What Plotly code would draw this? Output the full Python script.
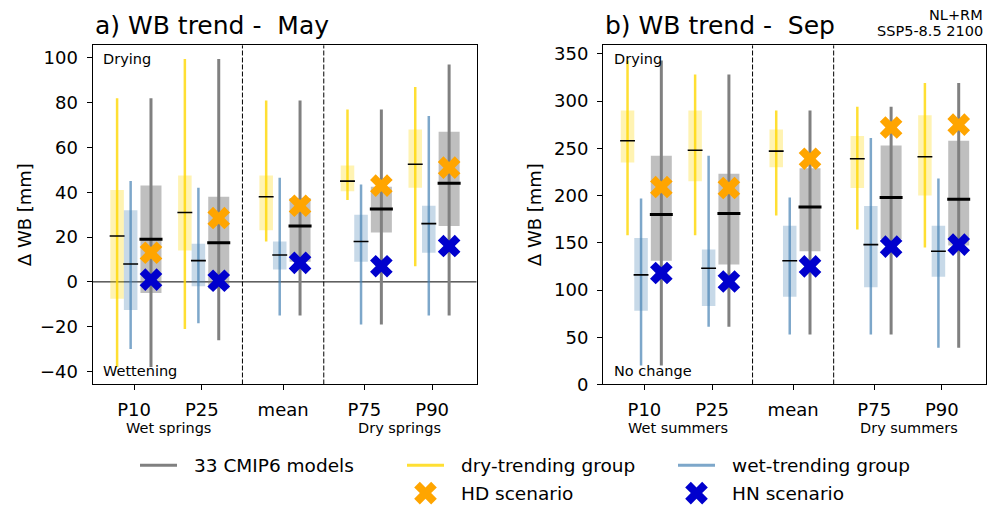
import plotly.graph_objects as go

categories = ["P10", "P25", "mean", "P75", "P90"]
xpos = [0, 1, 2.2, 3.4, 4.4]

# panel a) May, all 33 models
may_all_lo = [-38, -26, -15, -19, -15]
may_all_q1 = [-5, -3, 9, 22, 25]
may_all_med = [19, 17.5, 25, 32.5, 44]
may_all_q3 = [43, 38, 37.5, 42.5, 67]
may_all_hi = [82, 99.5, 81, 77, 97]
# dry-trending group
may_dry_lo = [-38, -21, 18, 36.5, 7]
may_dry_q1 = [-7.5, 14, 23, 40.5, 42]
may_dry_med = [20.5, 31, 38, 45, 52.5]
may_dry_q3 = [41, 47.5, 47.5, 52, 68]
may_dry_hi = [82, 99.5, 81, 77, 87]
# wet-trending group
may_wet_lo = [-30, -18.5, -15, -19, -15]
may_wet_q1 = [-12.5, -2, 5.5, 9, 13]
may_wet_med = [8, 9.5, 12, 18, 26]
may_wet_q3 = [32, 17, 18, 30, 34]
may_wet_hi = [45, 42, 46.5, 43.5, 74]
may_hd = [13, 28.5, 34, 43, 51]
may_hn = [1, 0.5, 8.5, 7, 16]

# panel b) Sep
sep_all_lo = [20, 61, 53, 53, 39]
sep_all_q1 = [131, 127, 141, 154, 147]
sep_all_med = [180, 181, 188, 198, 196]
sep_all_q3 = [242, 223, 229, 253, 258]
sep_all_hi = [343, 328, 290, 294, 319]
sep_dry_lo = [158, 158, 179, 164, 145]
sep_dry_q1 = [235, 215, 230, 208, 200]
sep_dry_med = [258, 248, 247, 239, 241]
sep_dry_q3 = [290, 290, 270, 263, 285]
sep_dry_hi = [343, 328, 290, 294, 319]
sep_wet_lo = [20, 61, 53, 53, 39]
sep_wet_q1 = [78, 83, 93, 103, 114]
sep_wet_med = [116, 123, 131, 148, 141]
sep_wet_q3 = [155, 143, 168, 189, 168]
sep_wet_hi = [197, 242, 198, 261, 218]
sep_hd = [209, 208, 239, 272, 275]
sep_hn = [118, 109, 125, 146, 148]

FONT = "DejaVu Sans"
GOLD_LINE = "rgba(255,215,0,0.8)"
GOLD_BOX = "rgba(255,215,0,0.3)"
BLUE_LINE = "rgba(70,130,180,0.7)"
BLUE_BOX = "rgba(70,130,180,0.3)"
GRAY_LINE = "rgb(128,128,128)"
GRAY_BOX = "rgba(128,128,128,0.5)"
HD_COL = "#FFA500"
HN_COL = "#0000CD"

# the photographed page area is a bit taller than the picture, so the figure is too
W, H = 987, 517


def seg_v(xs, lo, hi):
    xx, yy = [], []
    for x, a, b in zip(xs, lo, hi):
        xx += [x, x, None]
        yy += [a, b, None]
    return xx, yy


def seg_h(xs, ys, w):
    xx, yy = [], []
    for x, y in zip(xs, ys):
        xx += [x - w / 2, x + w / 2, None]
        yy += [y, y, None]
    return xx, yy


def add_panel(fig, xa, ya, groups, hd, hn):
    # groups: (offset, box width, median width, line col, box col, line w, med w, lo, q1, med, q3, hi)
    for off, bw, mw, lc, bc, lw, medw, lo, q1, med, q3, hi in groups:
        xs = [x + off for x in xpos]
        fig.add_trace(go.Bar(x=xs, y=[b - a for a, b in zip(q1, q3)], base=q1, width=bw,
                             marker=dict(color=bc, line=dict(width=0)),
                             xaxis=xa, yaxis=ya, showlegend=False, hoverinfo="skip"))
    for off, bw, mw, lc, bc, lw, medw, lo, q1, med, q3, hi in groups:
        xs = [x + off for x in xpos]
        wx, wy = seg_v(xs, lo, hi)
        fig.add_trace(go.Scatter(x=wx, y=wy, mode="lines", line=dict(color=lc, width=lw),
                                 xaxis=xa, yaxis=ya, showlegend=False, hoverinfo="skip"))
    for off, bw, mw, lc, bc, lw, medw, lo, q1, med, q3, hi in groups:
        xs = [x + off for x in xpos]
        mx, my = seg_h(xs, med, mw)
        fig.add_trace(go.Scatter(x=mx, y=my, mode="lines", line=dict(color="black", width=medw),
                                 xaxis=xa, yaxis=ya, showlegend=False, hoverinfo="skip"))
    xs = [x + 0.25 for x in xpos]
    fig.add_trace(go.Scatter(x=xs, y=hd, mode="markers",
                             marker=dict(symbol="x", size=20, color=HD_COL, line=dict(width=0)),
                             xaxis=xa, yaxis=ya, showlegend=False))
    fig.add_trace(go.Scatter(x=xs, y=hn, mode="markers",
                             marker=dict(symbol="x", size=20, color=HN_COL, line=dict(width=0)),
                             xaxis=xa, yaxis=ya, showlegend=False))


fig = go.Figure()

add_panel(fig, "x", "y", [
    (-0.25, 0.2, 0.22, GOLD_LINE, GOLD_BOX, 2.5, 1.6, may_dry_lo, may_dry_q1, may_dry_med, may_dry_q3, may_dry_hi),
    (-0.05, 0.2, 0.22, BLUE_LINE, BLUE_BOX, 2.5, 1.6, may_wet_lo, may_wet_q1, may_wet_med, may_wet_q3, may_wet_hi),
    (0.25, 0.31, 0.34, GRAY_LINE, GRAY_BOX, 3, 3, may_all_lo, may_all_q1, may_all_med, may_all_q3, may_all_hi),
], may_hd, may_hn)

add_panel(fig, "x2", "y2", [
    (-0.25, 0.2, 0.22, GOLD_LINE, GOLD_BOX, 2.5, 1.6, sep_dry_lo, sep_dry_q1, sep_dry_med, sep_dry_q3, sep_dry_hi),
    (-0.05, 0.2, 0.22, BLUE_LINE, BLUE_BOX, 2.5, 1.6, sep_wet_lo, sep_wet_q1, sep_wet_med, sep_wet_q3, sep_wet_hi),
    (0.25, 0.31, 0.34, GRAY_LINE, GRAY_BOX, 3, 3, sep_all_lo, sep_all_q1, sep_all_med, sep_all_q3, sep_all_hi),
], sep_hd, sep_hn)

# legend, drawn on an overlay axis in reference-pixel units
leg_row = [465, 493]
leg_font = 18.5
leg_text_x = [192, 459, 730]
leg_handle = [[x - 52, x - 15] for x in leg_text_x]
leg_colors = [GRAY_LINE, GOLD_LINE, BLUE_LINE]
for hx, col in zip(leg_handle, leg_colors):
    fig.add_trace(go.Scatter(x=hx, y=[leg_row[0]] * 2, mode="lines",
                             line=dict(color=col, width=3), xaxis="x3", yaxis="y3", showlegend=False))
for hx, col in zip(leg_handle[1:], [HD_COL, HN_COL]):
    fig.add_trace(go.Scatter(x=[sum(hx) / 2], y=[leg_row[1]], mode="markers",
                             marker=dict(symbol="x", size=20, color=col, line=dict(width=0)),
                             xaxis="x3", yaxis="y3", showlegend=False))

ann = []


def txt(x, y, s, size, xanchor="left", yanchor="middle", angle=0):
    ann.append(dict(x=x, y=y, xref="x3", yref="y3", text=s, showarrow=False,
                    xanchor=xanchor, yanchor=yanchor, textangle=angle,
                    font=dict(family=FONT, size=size, color="black")))


txt(leg_text_x[0], leg_row[0], "33 CMIP6 models", leg_font)
txt(leg_text_x[1], leg_row[0], "dry-trending group", leg_font)
txt(leg_text_x[2], leg_row[0], "wet-trending group", leg_font)
txt(leg_text_x[1], leg_row[1], "HD scenario", leg_font)
txt(leg_text_x[2], leg_row[1], "HN scenario", leg_font)

txt(93, 24, "a) WB trend -\u00a0 May", 25)
txt(603, 24, "b) WB trend -\u00a0 Sep", 25)
txt(985, 13, "NL+RM", 14.5, xanchor="right")
txt(985, 29, "SSP5-8.5 2100", 14.5, xanchor="right")

txt(101, 57, "Drying", 14.5)
txt(101, 370, "Wettening", 14.5)
txt(612, 57, "Drying", 14.5)
txt(612, 370, "No change", 14.5)

txt(168, 428, "Wet springs", 14.5, xanchor="center")
txt(399, 428, "Dry springs", 14.5, xanchor="center")
txt(678, 428, "Wet summers", 14.5, xanchor="center")
txt(909, 428, "Dry summers", 14.5, xanchor="center")

txt(24, 214, "\u0394 WB [mm]", 18, xanchor="center", angle=-90)
txt(534, 214, "\u0394 WB [mm]", 18, xanchor="center", angle=-90)

shapes = []
for xr, yr in [("x", "y domain"), ("x2", "y2 domain")]:
    for xv in [1.6, 2.8]:
        shapes.append(dict(type="line", xref=xr, yref=yr, x0=xv, x1=xv, y0=0, y1=1,
                           line=dict(color="black", width=1, dash="5px,2px"), layer="below"))
shapes.append(dict(type="line", xref="x domain", yref="y", x0=0, x1=1, y0=0, y1=0,
                   line=dict(color="black", width=1), layer="below"))

xcommon = dict(range=[-0.613, 5.054], tickvals=xpos, ticktext=categories, showline=True,
               mirror=True, linecolor="black", linewidth=1, ticks="outside", ticklen=5,
               tickcolor="black", showgrid=False, zeroline=False, ticklabelstandoff=4,
               tickfont=dict(family=FONT, size=18, color="black"))
ycommon = dict(showline=True, mirror=True, linecolor="black", linewidth=1, ticks="outside",
               ticklen=5, tickcolor="black", showgrid=False, zeroline=False, ticklabelstandoff=5,
               tickfont=dict(family=FONT, size=18, color="black"))

ydom = [1 - 384 / 507, 1 - 43.5 / 507]
fig.update_layout(
    width=W, height=H,
    margin=dict(l=0, r=0, t=0, b=0),
    paper_bgcolor="white", plot_bgcolor="rgba(0,0,0,0)",
    barmode="overlay", showlegend=False,
    xaxis=dict(domain=[92.5 / 987, 476.5 / 987], anchor="y", **xcommon),
    yaxis=dict(domain=ydom, anchor="x", range=[-45.8, 105.6], tickvals=list(range(-40, 101, 20)), **ycommon),
    xaxis2=dict(domain=[603 / 987, 986 / 987], anchor="y2", **xcommon),
    yaxis2=dict(domain=ydom, anchor="x2", range=[0, 359], tickvals=list(range(0, 351, 50)), **ycommon),
    xaxis3=dict(domain=[0, 1], anchor="y3", range=[0, 987], visible=False),
    yaxis3=dict(domain=[0, 1], anchor="x3", range=[507, 0], visible=False),
    annotations=ann, shapes=shapes,
    font=dict(family=FONT),
)

# the page body has a default 8px margin; drop it so the figure sits at the window origin
fig.write_html("out.html", config={"displayModeBar": False},
               post_script="document.body.style.margin='0px';")
